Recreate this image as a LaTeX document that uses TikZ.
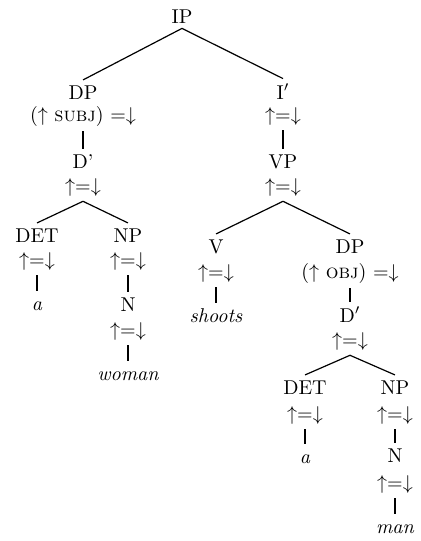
\documentclass[tikz,border=0pt]{standalone}
\usepackage{xcolor}
\usepackage{tikz}
\usetikzlibrary{
	positioning,
	calc
}

\newcommand{\upeqdown}{$\uparrow$=$\downarrow$}

\begin{document}
\begin{tikzpicture}[
	x=0.5pt, y=-0.5pt,
	every node/.style={inner sep=2.5pt, anchor=base},
	c_cat/.style={
		black
	},
	c_ann/.style={
		black
	},
	c_word/.style={
		black,
		font=\itshape,
		text height=6.9pt
	},
	c_edge/.style={
		black,
		line width=0.6pt
	}
	]

	\useasboundingbox (0,0) rectangle (420,541);

	% =========================================================================
	% 1. ROOT
	% =========================================================================

	\node[c_cat] (ip) at (182,23) {IP};

	% =========================================================================
	% 2. SUBJECT DP
	% =========================================================================

	\node[c_cat] (dpS) at (83,99) {DP};
	\node[c_ann] (dpSann) at (83,121) {($\uparrow$ \textsc{subj}) =$\downarrow$};

	\node[c_cat] (dbarS) at (83,168) {D'};
	\node[c_ann] (dbarSann) at (83,192) {\upeqdown};

	% Determiner
	\node[c_cat] (detS) at (37,242) {DET};
	\node[c_ann] (detSann) at (37,266) {\upeqdown};
	\node[c_word] (aS) at (37,310) {a};

	% Noun
	\node[c_cat] (npS) at (128,242) {NP};
	\node[c_ann] (npSann) at (128,266) {\upeqdown};
	\node[c_cat] (nS) at (128,311) {N};
	\node[c_ann] (nSann) at (128,336) {\upeqdown};
	\node[c_word] (woman) at (128,380) {woman};

	% =========================================================================
	% 3. I-BAR AND VP
	% =========================================================================

	\node[c_cat] (ibar) at (283,99) {I$'$};
	\node[c_ann] (ibarann) at (283,121) {\upeqdown};

	\node[c_cat] (vp) at (283,168) {VP};
	\node[c_ann] (vpann) at (283,192) {\upeqdown};

	% Verb
	\node[c_cat] (v) at (216,253) {V};
	\node[c_ann] (vann) at (216,278) {\upeqdown};
	\node[c_word] (shoots) at (216,322) {shoots};

	% =========================================================================
	% 4. OBJECT DP
	% =========================================================================

	\node[c_cat] (dpO) at (350,253) {DP};
	\node[c_ann] (dpOann) at (350,278) {($\uparrow$ \textsc{obj}) =$\downarrow$};

	\node[c_cat] (dbarO) at (350,322) {D$'$};
	\node[c_ann] (dbarOann) at (350,346) {\upeqdown};

	% Determiner
	\node[c_cat] (detO) at (305,394) {DET};
	\node[c_ann] (detOann) at (305,420) {\upeqdown};
	\node[c_word] (aO) at (305,463) {a};

	% Noun
	\node[c_cat] (npO) at (395,394) {NP};
	\node[c_ann] (npOann) at (395,420) {\upeqdown};
	\node[c_cat] (nO) at (395,462) {N};
	\node[c_ann] (nOann) at (395,489) {\upeqdown};
	\node[c_word] (man) at (395,533) {man};

	% =========================================================================
	% 5. BRANCHES
	% =========================================================================

	\draw[c_edge] (ip.south) -- (dpS.north);
	\draw[c_edge] (ip.south) -- (ibar.north);

	\draw[c_edge] (dpSann.south) -- (dbarS.north);
	\draw[c_edge] (dbarSann.south) -- (detS.north);
	\draw[c_edge] (dbarSann.south) -- (npS.north);
	\draw[c_edge] (detSann.south) -- (aS.north);
	\draw[c_edge] (npSann.south) -- (nS.north);
	\draw[c_edge] (nSann.south) -- (woman.north);

	\draw[c_edge] (ibarann.south) -- (vp.north);
	\draw[c_edge] (vpann.south) -- (v.north);
	\draw[c_edge] (vpann.south) -- (dpO.north);
	\draw[c_edge] (vann.south) -- (shoots.north);

	\draw[c_edge] (dpOann.south) -- (dbarO.north);
	\draw[c_edge] (dbarOann.south) -- (detO.north);
	\draw[c_edge] (dbarOann.south) -- (npO.north);
	\draw[c_edge] (detOann.south) -- (aO.north);
	\draw[c_edge] (npOann.south) -- (nO.north);
	\draw[c_edge] (nOann.south) -- (man.north);

\end{tikzpicture}
\end{document}
